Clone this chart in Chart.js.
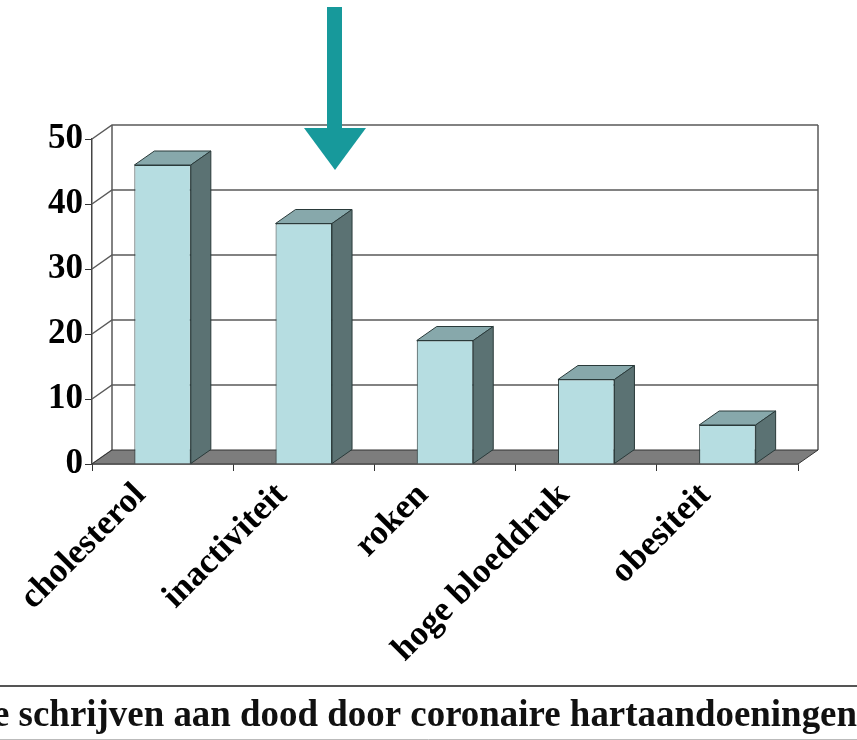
<!DOCTYPE html>
<html>
<head>
<meta charset="utf-8">
<script src="https://cdn.jsdelivr.net/npm/chart.js@4"></script>
<style>
  html, body { margin: 0; padding: 0; background: #ffffff; }
  #wrap { width: 857px; height: 740px; position: relative; }
</style>
</head>
<body>
<div id="wrap"><canvas id="chart" width="857" height="740"></canvas></div>
<script>
const categories = ["cholesterol", "inactiviteit", "roken", "hoge bloeddruk", "obesiteit"];
const values = [46, 37, 19, 13, 6];
const yTicks = [0, 10, 20, 30, 40, 50];
const footerText = "e schrijven aan dood door coronaire hartaandoeningen";

/* -----------------------------------------------------
   3D LOOK
----------------------------------------------------- */
const DEPTH_X = 20;
const DEPTH_Y = -14;
const FONT = "'Liberation Serif', 'Times New Roman', serif";

const colFront = "#b6dde1";
const colTop = "#87a8ab";
const colSide = "#5b7273";
const colEdge = "#2a3a3a";
const colFloor = "#7d7d7d";
const colWall = "#5a5a5a";
const colArrow = "#17999b";

const wallPlugin = {
  id: "wall",
  beforeDatasetsDraw(chart) {
    const { ctx, chartArea: a, scales } = chart;
    const y = scales.y;
    ctx.save();
    ctx.strokeStyle = colWall;
    ctx.lineWidth = 1.5;

    // gridlines on the back wall + diagonal on the side wall
    yTicks.forEach(t => {
      const py = y.getPixelForValue(t);
      ctx.beginPath();
      ctx.moveTo(a.left, py);
      ctx.lineTo(a.left + DEPTH_X, py + DEPTH_Y);
      if (t > 0) ctx.lineTo(a.right + DEPTH_X, py + DEPTH_Y);
      ctx.stroke();
    });

    // wall edges
    ctx.beginPath();
    ctx.moveTo(a.left + DEPTH_X, a.bottom + DEPTH_Y);
    ctx.lineTo(a.left + DEPTH_X, a.top + DEPTH_Y);
    ctx.moveTo(a.right + DEPTH_X, a.top + DEPTH_Y);
    ctx.lineTo(a.right + DEPTH_X, a.bottom + DEPTH_Y);
    ctx.stroke();

    // floor
    ctx.beginPath();
    ctx.moveTo(a.left, a.bottom);
    ctx.lineTo(a.left + DEPTH_X, a.bottom + DEPTH_Y);
    ctx.lineTo(a.right + DEPTH_X, a.bottom + DEPTH_Y);
    ctx.lineTo(a.right, a.bottom);
    ctx.closePath();
    ctx.fillStyle = colFloor;
    ctx.fill();
    ctx.strokeStyle = "#333";
    ctx.lineWidth = 1;
    ctx.stroke();
    ctx.restore();
  },

  afterDatasetsDraw(chart) {
    const { ctx } = chart;
    const meta = chart.getDatasetMeta(0);
    ctx.save();
    ctx.strokeStyle = colEdge;
    ctx.lineWidth = 1;
    ctx.lineJoin = "round";
    meta.data.forEach(bar => {
      const l = bar.x - bar.width / 2;
      const r = bar.x + bar.width / 2;
      const t = bar.y;
      const b = bar.base;
      // top face
      ctx.beginPath();
      ctx.moveTo(l, t);
      ctx.lineTo(l + DEPTH_X, t + DEPTH_Y);
      ctx.lineTo(r + DEPTH_X, t + DEPTH_Y);
      ctx.lineTo(r, t);
      ctx.closePath();
      ctx.fillStyle = colTop;
      ctx.fill();
      ctx.stroke();
      // side face
      ctx.beginPath();
      ctx.moveTo(r, t);
      ctx.lineTo(r + DEPTH_X, t + DEPTH_Y);
      ctx.lineTo(r + DEPTH_X, b + DEPTH_Y);
      ctx.lineTo(r, b);
      ctx.closePath();
      ctx.fillStyle = colSide;
      ctx.fill();
      ctx.stroke();
    });
    ctx.restore();
  },

  afterDraw(chart) {
    const { ctx, width } = chart;
    ctx.save();

    /* arrow */
    ctx.fillStyle = colArrow;
    ctx.fillRect(327, 7, 15, 123);
    ctx.beginPath();
    ctx.moveTo(304, 128);
    ctx.lineTo(366, 128);
    ctx.lineTo(335, 170);
    ctx.closePath();
    ctx.fill();

    /* footer band */
    ctx.strokeStyle = "#555";
    ctx.lineWidth = 2;
    ctx.beginPath();
    ctx.moveTo(0, 686);
    ctx.lineTo(width, 686);
    ctx.stroke();
    ctx.strokeStyle = "#bbb";
    ctx.lineWidth = 1;
    ctx.beginPath();
    ctx.moveTo(0, 739.5);
    ctx.lineTo(width, 739.5);
    ctx.stroke();

    ctx.font = "bold 37px " + FONT;
    ctx.fillStyle = "#111";
    ctx.textBaseline = "alphabetic";
    const w = ctx.measureText(footerText).width;
    const target = 864;
    ctx.translate(-7, 726);
    ctx.scale(target / w, 1);
    ctx.fillText(footerText, 0, 0);
    ctx.restore();
  }
};

/* -----------------------------------------------------
   CHART INSTANCE
----------------------------------------------------- */
const canvas = document.getElementById("chart");
new Chart(canvas.getContext("2d"), {
  type: "bar",
  data: {
    labels: categories,
    datasets: [{
      data: values,
      backgroundColor: colFront,
      borderColor: colEdge,
      borderWidth: 1,
      barPercentage: 0.4,
      categoryPercentage: 1
    }]
  },
  options: {
    responsive: false,
    animation: false,
    layout: { padding: { top: 139, right: 59, bottom: 0, left: 0 } },
    plugins: {
      legend: { display: false },
      tooltip: { enabled: false }
    },
    scales: {
      x: {
        offset: true,
        afterFit: s => { s.height = 740 - 464; },
        grid: {
          drawOnChartArea: false,
          drawTicks: true,
          tickLength: 7,
          offset: true,
          color: "#333"
        },
        border: { display: true, color: "#222", width: 1.5 },
        ticks: {
          color: "#000",
          minRotation: 45,
          maxRotation: 45,
          labelOffset: -22,
          padding: 4,
          font: { family: FONT, size: 35, weight: "bold" }
        }
      },
      y: {
        min: 0,
        max: 50,
        afterFit: s => { s.width = 92; },
        afterBuildTicks: s => { s.ticks = yTicks.map(v => ({ value: v })); },
        grid: {
          drawOnChartArea: false,
          drawTicks: true,
          tickLength: 7,
          color: "#333"
        },
        border: { display: true, color: "#444", width: 1.5 },
        ticks: {
          color: "#000",
          padding: 2,
          font: { family: FONT, size: 35, weight: "bold" }
        }
      }
    }
  },
  plugins: [wallPlugin]
});
</script>
</body>
</html>
